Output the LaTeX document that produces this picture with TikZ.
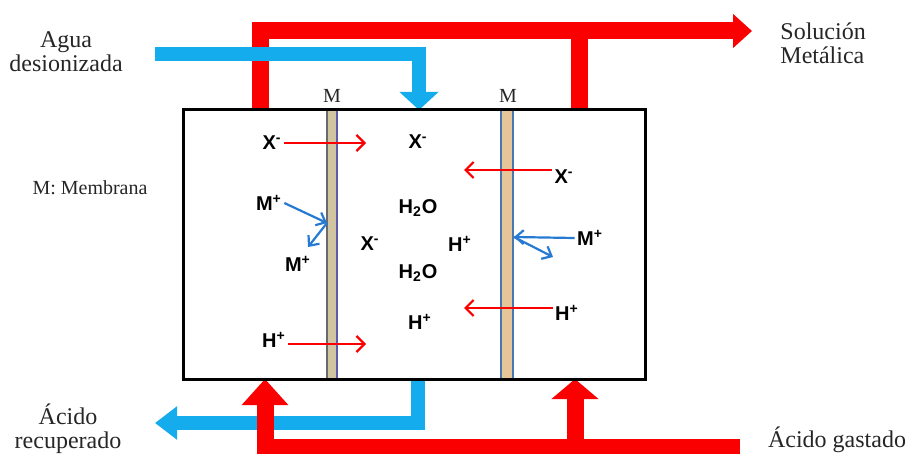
\documentclass[tikz,border=0pt]{standalone}
\usepackage{fontspec}
\setmainfont{Liberation Serif}
\newfontfamily\labelfont{Liberation Serif}
\newfontfamily\ionfont{Liberation Sans}
\usetikzlibrary{arrows.meta}
\definecolor{flowred}{RGB}{250,0,0}
\definecolor{flowblue}{RGB}{20,172,236}
\definecolor{ionblue}{RGB}{38,122,210}
\definecolor{membraneone}{RGB}{208,197,160}
\definecolor{membranetwo}{RGB}{230,197,152}
\definecolor{edgegray}{RGB}{105,105,110}
\definecolor{edgeviolet}{RGB}{95,90,170}
\definecolor{edgeblue}{RGB}{70,120,178}

\begin{document}
\begin{tikzpicture}[x=0.5pt, y=-0.5pt,
    textlabel/.style={font=\labelfont\fontsize{12}{12}\selectfont, align=center, text=black!85, inner sep=0pt},
    smalllabel/.style={font=\labelfont\fontsize{10}{11}\selectfont, text=black!85, inner sep=0pt},
    ion/.style={font=\ionfont\bfseries\fontsize{10}{11}\selectfont, inner sep=1pt},
    redpipe/.style={draw=flowred, line width=8.5pt, line join=miter},
    bluepipe/.style={draw=flowblue, line width=7pt, line join=miter},
    redion/.style={draw=flowred, line width=1.1pt, -{Straight Barb[length=4pt,width=8pt]}},
    blueion/.style={draw=ionblue, line width=1.1pt, -{Straight Barb[length=4pt,width=7pt]}}]
  \useasboundingbox (0,0) rectangle (914,454);

  % pipe ends
  \coordinate (acidin) at (260,110);
  \coordinate (acidin2) at (579,110);
  \coordinate (metalout) at (752,31);
  \coordinate (waterfrom) at (155,54);
  \coordinate (waterin) at (419,110);
  \coordinate (recout) at (418,379);
  \coordinate (recend) at (155,423);
  \coordinate (spentfrom) at (740,447);
  \coordinate (spentin) at (265,379);
  \coordinate (spentin2) at (575,379);

  % top pipes
  \draw[redpipe, -{Triangle[width=16.5pt,length=9.5pt]}] (acidin) -- (acidin |- metalout) -- (metalout);
  \draw[redpipe] (acidin2) -- (acidin2 |- metalout);
  \draw[bluepipe, -{Triangle[width=19pt,length=9pt]}] (waterfrom) -- (waterfrom -| waterin) -- (waterin);

  % bottom pipes
  \draw[bluepipe, -{Triangle[width=16pt,length=11pt]}] (recout) -- (recout |- recend) -- (recend);
  \draw[redpipe, -{Triangle[width=22.5pt,length=13pt]}] (spentfrom) -- (spentfrom -| spentin) -- (spentin);
  \draw[redpipe, -{Triangle[width=23pt,length=10pt]}] (spentin2 |- spentfrom) -- (spentin2);

  % membranes and cell
  \fill[membraneone] (326,110) rectangle (338,379);
  \draw[edgegray, line width=1.2pt] (327,110) -- (327,379);
  \draw[edgeviolet, line width=1.2pt] (337,110) -- (337,379);
  \fill[membranetwo] (500,110) rectangle (514,379);
  \draw[edgeblue, line width=1.2pt] (501,110) -- (501,379);
  \draw[edgeblue, line width=1.2pt] (513,110) -- (513,379);
  \draw[line width=1.5pt] (183,110) rectangle (645,379);

  % outer labels
  \node[textlabel] (agua) at (66,52) {Agua\\desionizada};
  \node[textlabel, anchor=west, align=left] (solucion) at (780,43) {Solución\\Metálica};
  \node[smalllabel] (membrana) at (90,188) {M: Membrana};
  \node[smalllabel] (mleft) at (332,96) {M};
  \node[smalllabel] (mright) at (508,96) {M};
  \node[textlabel] (recuperado) at (68,429) {Ácido\\recuperado};
  \node[textlabel] (gastado) at (837,440) {Ácido gastado};

  % ions
  \node[ion] (xa) at (272,143) {X\textsuperscript{-}};
  \node[ion] (xb) at (418,142) {X\textsuperscript{-}};
  \node[ion] (xc) at (564,177) {X\textsuperscript{-}};
  \node[ion] (ma) at (269,203) {M\textsuperscript{+}};
  \node[ion] (mb) at (298,264) {M\textsuperscript{+}};
  \node[ion] (xd) at (370,244) {X\textsuperscript{-}};
  \node[ion] (wa) at (418,208) {H\textsubscript{2}O};
  \node[ion] (ha) at (460,244) {H\textsuperscript{+}};
  \node[ion] (wb) at (418,273) {H\textsubscript{2}O};
  \node[ion] (mc) at (590,238) {M\textsuperscript{+}};
  \node[ion] (hb) at (420,322) {H\textsuperscript{+}};
  \node[ion] (hc) at (274,340) {H\textsuperscript{+}};
  \node[ion] (hd) at (567,313) {H\textsuperscript{+}};

  % ion transport
  \coordinate (xaend) at (366,143);
  \coordinate (xcend) at (464,170);
  \coordinate (hcend) at (366,344);
  \coordinate (hdend) at (464,308);
  \coordinate (hitleft) at (327,223);
  \coordinate (bounceleft) at (308,247);
  \coordinate (hitright) at (514,237);
  \coordinate (bounceright) at (553,257);
  \draw[redion] (xa.east) -- (xaend);
  \draw[redion] (xc.west |- xcend) -- (xcend);
  \draw[redion] (hc.east |- hcend) -- (hcend);
  \draw[redion] (hd.west |- hdend) -- (hdend);
  \draw[blueion] (ma.east) -- (hitleft);
  \draw[blueion] (hitleft) -- (bounceleft);
  \draw[blueion] (mc.west) -- (hitright);
  \draw[blueion] (hitright) -- (bounceright);
\end{tikzpicture}
\end{document}
